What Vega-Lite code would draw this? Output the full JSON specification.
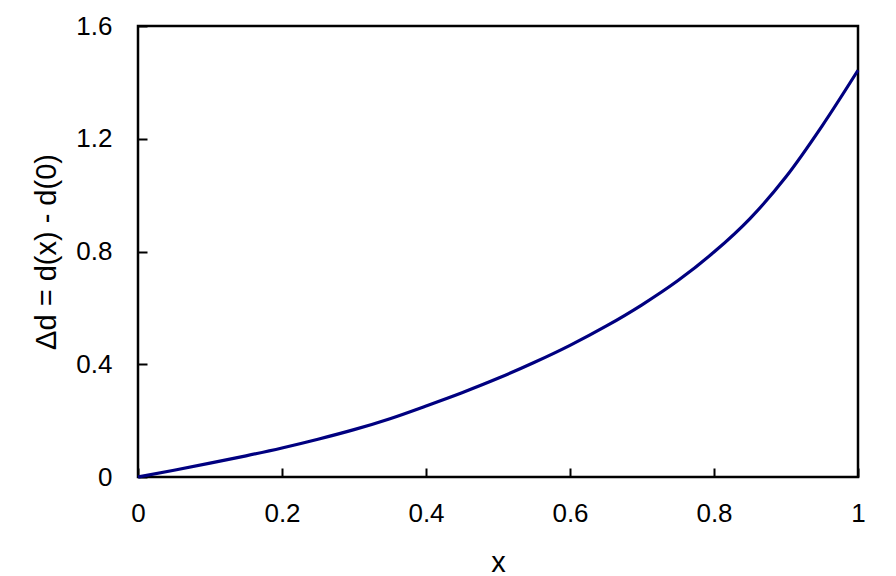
{
  "$schema": "https://vega.github.io/schema/vega-lite/v6.json",
  "autosize": {"type": "none"},
  "width": 720,
  "height": 451,
  "padding": {"left": 138, "top": 26, "right": 38, "bottom": 99},
  "background": "white",
  "config": {
    "view": {"stroke": "black", "strokeWidth": 2.5}
  },
  "data": {
    "values": [
      {"x": 0, "d": 0},
      {"x": 0.05, "d": 0.024},
      {"x": 0.1, "d": 0.049},
      {"x": 0.15, "d": 0.075},
      {"x": 0.2, "d": 0.103},
      {"x": 0.25, "d": 0.134},
      {"x": 0.3, "d": 0.168},
      {"x": 0.35, "d": 0.207},
      {"x": 0.4, "d": 0.252},
      {"x": 0.45, "d": 0.299},
      {"x": 0.5, "d": 0.350},
      {"x": 0.55, "d": 0.406},
      {"x": 0.6, "d": 0.467},
      {"x": 0.65, "d": 0.535},
      {"x": 0.7, "d": 0.611},
      {"x": 0.75, "d": 0.697},
      {"x": 0.8, "d": 0.798},
      {"x": 0.85, "d": 0.917},
      {"x": 0.9, "d": 1.065},
      {"x": 0.95, "d": 1.245},
      {"x": 1, "d": 1.443}
    ]
  },
  "mark": {"type": "line", "color": "#000080", "strokeWidth": 3.2, "interpolate": "monotone", "clip": false},
  "encoding": {
    "x": {
      "field": "x", "type": "quantitative",
      "scale": {"domain": [0, 1], "nice": false},
      "axis": {
        "values": [0, 0.2, 0.4, 0.6, 0.8, 1], "format": "~g", "title": "x",
        "grid": false, "domain": false, "labelFlush": false,
        "ticks": true, "tickColor": "black", "tickSize": -9, "tickWidth": 2,
        "labelFont": "Liberation Sans", "labelFontSize": 26, "labelColor": "black", "labelPadding": 32,
        "titleFont": "Liberation Sans", "titleFontSize": 29, "titleFontWeight": "normal", "titleColor": "black", "titlePadding": 22
      }
    },
    "y": {
      "field": "d", "type": "quantitative",
      "scale": {"domain": [0, 1.6], "nice": false},
      "axis": {
        "values": [0, 0.4, 0.8, 1.2, 1.6], "format": "~g", "title": "Δd = d(x) - d(0)",
        "grid": false, "domain": false, "labelFlush": false,
        "ticks": true, "tickColor": "black", "tickSize": -9, "tickWidth": 2,
        "labelFont": "Liberation Sans", "labelFontSize": 26, "labelColor": "black", "labelPadding": 35,
        "titleFont": "Liberation Sans", "titleFontSize": 29, "titleFontWeight": "normal", "titleColor": "black", "titlePadding": 14
      }
    }
  }
}
